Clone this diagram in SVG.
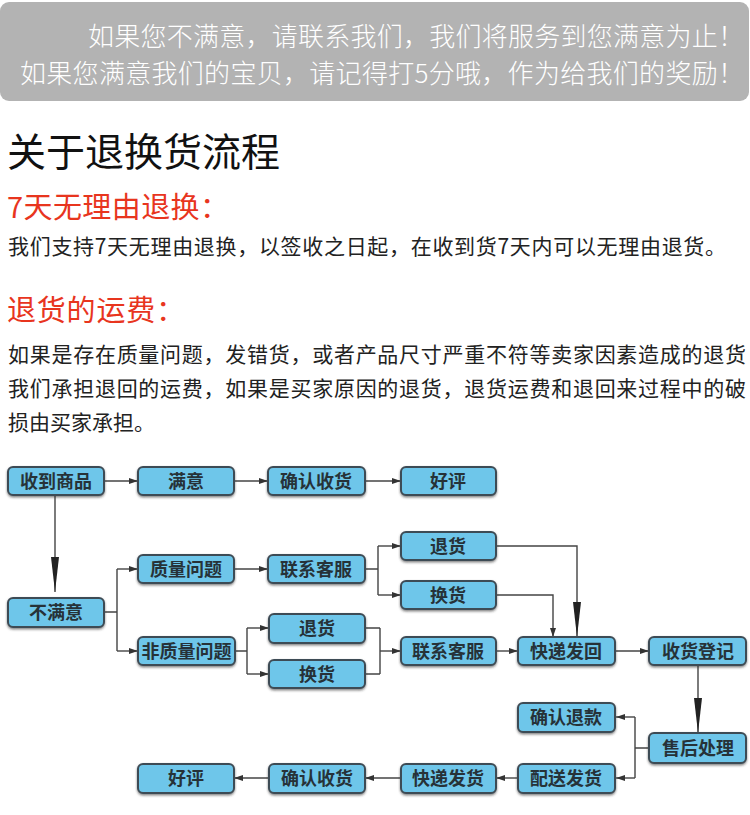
<svg xmlns="http://www.w3.org/2000/svg" width="750" height="815" viewBox="0 0 750 815">
<style>
.cjk{font-family:"Noto Sans CJK SC","Noto Sans",sans-serif}
.banner{font-size:26px;fill:#ffffff;font-weight:300}
.title{font-size:39px;fill:#111111}
.red{font-size:29px;fill:#e8351e}
.body{font-size:21px;fill:#222222}
.box{fill:#6ec6ea;stroke:#3e4b54;stroke-width:2}
.lbl{font-size:18px;font-weight:bold;fill:#263238;text-anchor:middle}
.con{fill:none;stroke:#444;stroke-width:1.4}
</style>
<defs>
<filter id="sh" x="-10%" y="-20%" width="120%" height="160%"><feDropShadow dx="0" dy="1.5" stdDeviation="0.8" flood-color="#333" flood-opacity="0.6"/></filter>
<marker id="a" markerUnits="userSpaceOnUse" markerWidth="10" markerHeight="8" refX="9" refY="4" orient="auto"><path d="M0,1 L9,4 L0,7 z" fill="#333"/></marker>
<marker id="L" markerUnits="userSpaceOnUse" markerWidth="36" markerHeight="10" refX="35" refY="5" orient="auto"><path d="M0,1 L35,5 L0,9 z" fill="#222"/></marker>
</defs>

<g id="banner">
<rect x="0" y="2" width="749" height="99" rx="9" fill="#b3b3b3"/>
<text class="cjk banner" x="88" y="46" textLength="656">如果您不满意，请联系我们，我们将服务到您满意为止！</text>
<text class="cjk banner" x="20" y="83" textLength="724">如果您满意我们的宝贝，请记得打5分哦，作为给我们的奖励！</text>
</g>

<g id="texts">
<text class="cjk title" x="7" y="166">关于退换货流程</text>
<text class="cjk red" x="7" y="218" textLength="222">7天无理由退换：</text>
<text class="cjk body" x="8" y="254" textLength="718">我们支持7天无理由退换，以签收之日起，在收到货7天内可以无理由退货。</text>
<text class="cjk red" x="7" y="321" textLength="178">退货的运费：</text>
<text class="cjk body" x="8" y="362" textLength="738">如果是存在质量问题，发错货，或者产品尺寸严重不符等卖家因素造成的退货</text>
<text class="cjk body" x="8" y="396" textLength="738">我们承担退回的运费，如果是买家原因的退货，退货运费和退回来过程中的破</text>
<text class="cjk body" x="8" y="430">损由买家承担。</text>
</g>

<g id="connectors">
<path class="con" d="M104,481 H138" marker-end="url(#a)"/>
<path class="con" d="M233,481 H268" marker-end="url(#a)"/>
<path class="con" d="M365,481 H401" marker-end="url(#a)"/>
<path class="con" d="M55,495 V592" marker-end="url(#L)"/>
<path class="con" d="M104,612 H117 M117,569 V651"/>
<path class="con" d="M117,569 H138" marker-end="url(#a)"/>
<path class="con" d="M117,651 H138" marker-end="url(#a)"/>
<path class="con" d="M233,569 H268" marker-end="url(#a)"/>
<path class="con" d="M365,569 H378 M378,546 V595"/>
<path class="con" d="M378,546 H401" marker-end="url(#a)"/>
<path class="con" d="M378,595 H401" marker-end="url(#a)"/>
<path class="con" d="M496,546 H577 V637" marker-end="url(#L)"/>
<path class="con" d="M496,595 H553 V637" marker-end="url(#a)"/>
<path class="con" d="M235,651 H247 M247,628 V674"/>
<path class="con" d="M247,628 H269" marker-end="url(#a)"/>
<path class="con" d="M247,674 H269" marker-end="url(#a)"/>
<path class="con" d="M365,628 H380 M365,674 H380 M380,628 V674"/>
<path class="con" d="M380,651 H401" marker-end="url(#a)"/>
<path class="con" d="M496,651 H518" marker-end="url(#a)"/>
<path class="con" d="M615,651 H649" marker-end="url(#a)"/>
<path class="con" d="M698,665 V733" marker-end="url(#L)"/>
<path class="con" d="M649,748 H635 M635,717 V778"/>
<path class="con" d="M635,717 H616" marker-end="url(#a)"/>
<path class="con" d="M635,778 H616" marker-end="url(#a)"/>
<path class="con" d="M518,778 H496" marker-end="url(#a)"/>
<path class="con" d="M401,778 H365" marker-end="url(#a)"/>
<path class="con" d="M269,778 H234" marker-end="url(#a)"/>
</g>

<g id="n1"><rect class="box" filter="url(#sh)" x="8" y="467" width="96" height="28" rx="5"/><text class="cjk lbl" x="56" y="487.5">收到商品</text></g>
<g id="n2"><rect class="box" filter="url(#sh)" x="138" y="467" width="96" height="28" rx="5"/><text class="cjk lbl" x="186" y="487.5">满意</text></g>
<g id="n3"><rect class="box" filter="url(#sh)" x="268" y="467" width="97" height="28" rx="5"/><text class="cjk lbl" x="316" y="487.5">确认收货</text></g>
<g id="n4"><rect class="box" filter="url(#sh)" x="401" y="467" width="95" height="28" rx="5"/><text class="cjk lbl" x="448" y="487.5">好评</text></g>
<g id="n5"><rect class="box" filter="url(#sh)" x="8" y="598" width="96" height="29" rx="5"/><text class="cjk lbl" x="56" y="618.5">不满意</text></g>
<g id="n6"><rect class="box" filter="url(#sh)" x="138" y="555" width="96" height="28" rx="5"/><text class="cjk lbl" x="186" y="575.5">质量问题</text></g>
<g id="n7"><rect class="box" filter="url(#sh)" x="268" y="555" width="97" height="28" rx="5"/><text class="cjk lbl" x="316" y="575.5">联系客服</text></g>
<g id="n8"><rect class="box" filter="url(#sh)" x="401" y="532" width="95" height="28" rx="5"/><text class="cjk lbl" x="448" y="552.5">退货</text></g>
<g id="n9"><rect class="box" filter="url(#sh)" x="401" y="581" width="95" height="28" rx="5"/><text class="cjk lbl" x="448" y="601.5">换货</text></g>
<g id="n10"><rect class="box" filter="url(#sh)" x="138" y="637" width="97" height="28" rx="5"/><text class="cjk lbl" x="186.5" y="657.5">非质量问题</text></g>
<g id="n11"><rect class="box" filter="url(#sh)" x="269" y="614" width="96" height="29" rx="5"/><text class="cjk lbl" x="317" y="634.5">退货</text></g>
<g id="n12"><rect class="box" filter="url(#sh)" x="269" y="660" width="96" height="28" rx="5"/><text class="cjk lbl" x="317" y="680.5">换货</text></g>
<g id="n13"><rect class="box" filter="url(#sh)" x="401" y="637" width="95" height="28" rx="5"/><text class="cjk lbl" x="448" y="657.5">联系客服</text></g>
<g id="n14"><rect class="box" filter="url(#sh)" x="518" y="637" width="97" height="28" rx="5"/><text class="cjk lbl" x="566" y="657.5">快递发回</text></g>
<g id="n15"><rect class="box" filter="url(#sh)" x="649" y="637" width="97" height="28" rx="5"/><text class="cjk lbl" x="698" y="657.5">收货登记</text></g>
<g id="n16"><rect class="box" filter="url(#sh)" x="518" y="703" width="97" height="29" rx="5"/><text class="cjk lbl" x="566" y="723.5">确认退款</text></g>
<g id="n17"><rect class="box" filter="url(#sh)" x="649" y="733" width="97" height="30" rx="5"/><text class="cjk lbl" x="698" y="754.5">售后处理</text></g>
<g id="n18"><rect class="box" filter="url(#sh)" x="518" y="764" width="97" height="29" rx="5"/><text class="cjk lbl" x="566" y="784.5">配送发货</text></g>
<g id="n19"><rect class="box" filter="url(#sh)" x="401" y="764" width="95" height="29" rx="5"/><text class="cjk lbl" x="448" y="784.5">快递发货</text></g>
<g id="n20"><rect class="box" filter="url(#sh)" x="269" y="764" width="96" height="29" rx="5"/><text class="cjk lbl" x="317" y="784.5">确认收货</text></g>
<g id="n21"><rect class="box" filter="url(#sh)" x="138" y="764" width="96" height="29" rx="5"/><text class="cjk lbl" x="186" y="784.5">好评</text></g>
</svg>
